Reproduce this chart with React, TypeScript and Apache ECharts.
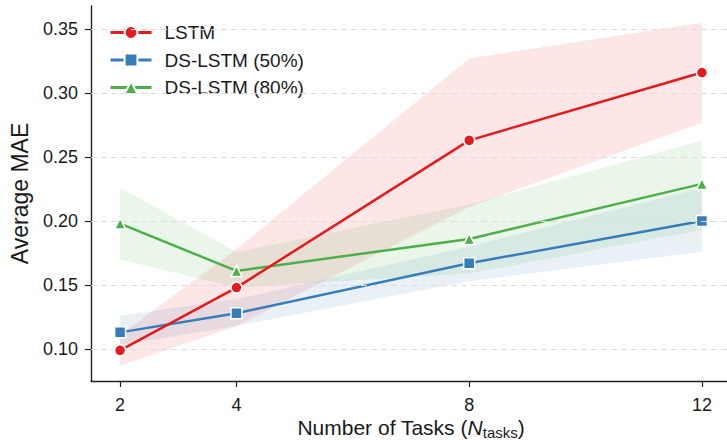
import React, { useEffect, useRef } from "react";
import * as echarts from "echarts";

const xValues = [2, 4, 8, 12];
const xTicks = [2, 4, 8, 12];
const yTicks = [0.1, 0.15, 0.2, 0.25, 0.3, 0.35];

const lstmMean = [0.099, 0.148, 0.263, 0.316];
const lstmLow = [0.087, 0.118, 0.211, 0.277];
const lstmHigh = [0.111, 0.178, 0.327, 0.355];

const ds50Mean = [0.113, 0.128, 0.167, 0.2];
const ds50Low = [0.103, 0.118, 0.153, 0.176];
const ds50High = [0.126, 0.139, 0.18, 0.226];

const ds80Mean = [0.198, 0.161, 0.186, 0.229];
const ds80Low = [0.17, 0.148, 0.159, 0.193];
const ds80High = [0.226, 0.176, 0.213, 0.263];

const seriesNames = ["LSTM", "DS-LSTM (50%)", "DS-LSTM (80%)"];
const colors = ["#e41a1c", "#377eb8", "#4daf4a"];

const FONT = "'Liberation Sans', Arial, Helvetica, sans-serif";
const TEXT = "#1a1a1a";

function bandSeries(low: number[], high: number[], color: string) {
  return {
    type: "custom",
    silent: true,
    z: 1,
    data: xValues.map((x, i) => [x, low[i], high[i]]),
    renderItem: (params: any, api: any) => {
      if (params.dataIndex !== 0) return null;
      const upper = xValues.map((x, i) => api.coord([x, high[i]]));
      const lower = xValues.map((x, i) => api.coord([x, low[i]])).reverse();
      return {
        type: "polygon",
        shape: { points: upper.concat(lower) },
        style: { fill: color, opacity: 0.11 },
      };
    },
  };
}

function lineSeries(name: string, mean: number[], color: string, symbol: string, size: number, z: number) {
  return {
    type: "line",
    name,
    z,
    data: xValues.map((x, i) => [x, mean[i]]),
    symbol,
    symbolSize: size,
    showSymbol: true,
    lineStyle: { color, width: 2.5 },
    itemStyle: { color, borderColor: "#ffffff", borderWidth: 1.5 },
  };
}

export default function App() {
  const ref = useRef<HTMLDivElement>(null);
  useEffect(() => {
    if (!ref.current) return;
    const chart = echarts.init(ref.current, undefined, { renderer: "svg" });
    chart.setOption({
      animation: false,
      textStyle: { fontFamily: FONT },
      grid: { left: 91, right: -4, top: 6, bottom: 59, containLabel: false, outerBoundsMode: "none" },
      legend: {
        data: seriesNames,
        orient: "vertical",
        left: 104,
        top: 18,
        itemGap: 8.5,
        itemWidth: 41,
        itemHeight: 16,
        lineStyle: { width: 3 },
        textStyle: { fontSize: 19, color: TEXT, fontFamily: FONT, padding: [0, 0, 0, 8] },
      },
      xAxis: {
        type: "value",
        min: 1.5,
        max: 12.5,
        name: "Number of Tasks ({i|N}{sub|tasks})",
        nameLocation: "middle",
        nameMoveOverlap: false,
        nameGap: 34,
        nameTextStyle: {
          fontSize: 21,
          lineHeight: 25,
          color: TEXT,
          fontFamily: FONT,
          rich: {
            i: { fontSize: 21, lineHeight: 25, fontStyle: "italic", color: TEXT, fontFamily: FONT },
            sub: { fontSize: 15, lineHeight: 13, color: TEXT, fontFamily: FONT, verticalAlign: "bottom" },
          },
        },
        axisLine: { show: true, lineStyle: { color: "#222", width: 1.4 } },
        axisTick: { show: true, length: 6, lineStyle: { color: "#222", width: 1.2 }, customValues: xTicks },
        axisLabel: { fontSize: 18, color: TEXT, margin: 15, customValues: xTicks, fontFamily: FONT },
        splitLine: { show: false },
      },
      yAxis: {
        type: "value",
        min: 0.075,
        max: 0.368,
        name: "Average MAE",
        nameLocation: "middle",
        nameMoveOverlap: false,
        nameGap: 60,
        nameTextStyle: { fontSize: 23, color: TEXT, fontFamily: FONT },
        axisLine: { show: true, lineStyle: { color: "#222", width: 1.4 } },
        axisTick: { show: true, length: 6, lineStyle: { color: "#222", width: 1.2 }, customValues: yTicks },
        axisLabel: {
          fontSize: 18,
          color: TEXT,
          margin: 13,
          customValues: yTicks,
          fontFamily: FONT,
          formatter: (v: number) => v.toFixed(2),
        },
        splitLine: { show: false },
      },
      series: [
        {
          type: "line",
          name: "grid",
          data: [],
          silent: true,
          z: 0,
          markLine: {
            silent: true,
            symbol: "none",
            label: { show: false },
            lineStyle: { color: "#dddddd", type: [6, 4], width: 1.1 },
            data: yTicks.map((v) => ({ yAxis: v })),
          },
        },
        bandSeries(lstmLow, lstmHigh, colors[0]),
        bandSeries(ds50Low, ds50High, colors[1]),
        bandSeries(ds80Low, ds80High, colors[2]),
        lineSeries(seriesNames[2], ds80Mean, colors[2], "triangle", 11, 3),
        lineSeries(seriesNames[1], ds50Mean, colors[1], "rect", 11, 4),
        lineSeries(seriesNames[0], lstmMean, colors[0], "circle", 11, 5),
      ],
    });
    return () => chart.dispose();
  }, []);
  return <div ref={ref} style={{ width: 727, height: 440, position: "absolute", left: 0, top: 0 }} />;
}
